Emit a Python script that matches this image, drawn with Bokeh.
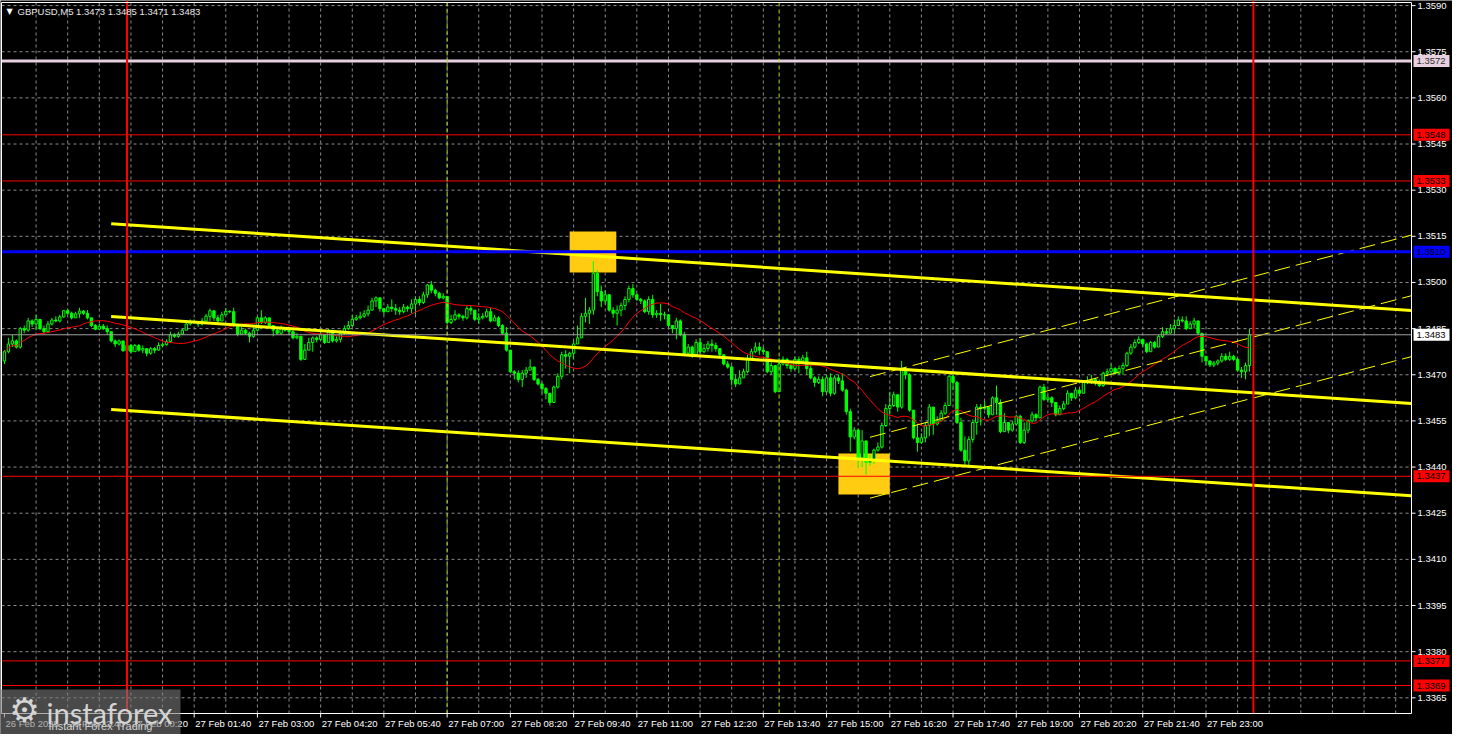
import numpy as np
import pandas as pd
from bokeh.plotting import figure
from bokeh.models import Range1d
from bokeh.core.properties import value
from bokeh.embed import file_html
from bokeh.resources import INLINE

# ---------------- data (prices as pips above 1.3400) ----------------
BASE = 1.3400
PIP = 0.0001
first_open_pips = 74.5
closes_pips = [
    77.5, 80.0, 81.0, 79.0, 85.0, 84.5, 87.5, 86.5, 88.0, 85.0,
    84.0, 86.5, 87.8, 87.5, 88.8, 90.8, 90.0, 88.5, 89.8, 90.7,
    90.0, 88.5, 86.0, 84.8, 85.8, 85.0, 84.0, 81.0, 80.0, 81.0,
    77.8, 79.5, 77.5, 79.5, 78.0, 78.5, 77.0, 78.5, 78.0, 79.5,
    79.8, 80.8, 83.0, 82.5, 83.2, 84.5, 86.5, 87.2, 87.0, 86.5,
    87.5, 89.0, 90.8, 88.5, 87.5, 89.5, 90.6, 90.5, 86.0, 83.2,
    84.5, 83.5, 82.5, 84.5, 88.5, 87.0, 88.5, 86.0, 84.5, 83.5,
    85.0, 84.5, 84.0, 82.0, 82.5, 75.0, 78.0, 80.5, 82.0, 81.5,
    83.0, 80.5, 84.0, 81.0, 81.5, 83.5, 85.0, 86.0, 88.0, 88.5,
    89.0, 89.8, 91.0, 94.0, 95.0, 91.5, 90.5, 92.0, 91.5, 91.0,
    90.5, 92.0, 91.5, 93.0, 94.5, 93.5, 96.0, 99.2, 97.5, 96.5,
    95.0, 95.5, 87.0, 88.0, 89.5, 89.0, 88.5, 91.5, 91.0, 88.0,
    88.5, 89.0, 90.5, 87.5, 88.5, 86.0, 83.5, 78.0, 71.0, 70.5,
    68.5, 70.5, 71.5, 72.5, 68.5, 67.0, 65.5, 64.0, 61.0, 66.0,
    69.5, 76.5, 76.0, 77.0, 80.0, 82.0, 89.0, 90.0, 91.0, 103.0,
    97.0, 94.0, 96.0, 91.0, 90.0, 91.0, 92.5, 94.5, 98.0, 96.0,
    94.5, 94.0, 90.5, 94.5, 89.5, 90.0, 89.5, 89.5, 86.0, 85.0,
    87.5, 83.0, 77.0, 79.0, 76.5, 80.5, 77.5, 78.5, 80.0, 79.5,
    78.5, 76.5, 73.5, 72.5, 68.5, 67.0, 69.0, 71.0, 75.0, 77.5,
    79.0, 78.0, 77.5, 71.0, 73.0, 64.5, 73.5, 75.0, 73.0, 72.0,
    75.0, 74.5, 75.5, 72.0, 69.0, 67.5, 68.5, 64.5, 69.0, 64.0,
    69.0, 68.0, 65.0, 58.0, 49.8, 52.0, 43.0, 48.5, 41.5, 42.5,
    45.5, 46.5, 53.5, 59.0, 60.0, 63.5, 59.5, 71.5, 70.0, 58.5,
    49.5, 48.0, 49.5, 53.5, 59.5, 54.0, 55.0, 57.5, 60.0, 69.5,
    67.5, 54.5, 45.5, 42.0, 49.0, 54.5, 59.5, 59.0, 59.5, 57.0,
    62.5, 61.0, 51.5, 54.5, 52.0, 54.0, 56.5, 48.0, 52.0, 55.0,
    57.0, 56.0, 66.0, 62.0, 62.5, 61.0, 57.0, 59.0, 60.5, 64.0,
    62.5, 65.0, 64.0, 67.5, 68.0, 68.5, 67.5, 66.5, 70.5, 71.0,
    72.0, 70.5, 72.0, 73.0, 77.0, 79.0, 80.5, 81.5, 80.0, 77.5,
    80.5, 79.0, 82.5, 84.0, 83.5, 85.0, 86.0, 87.8, 87.5, 85.0,
    86.5, 87.5, 83.5, 76.0, 74.5, 73.2, 73.8, 74.5, 76.0, 75.0,
    76.0, 75.0, 71.5, 71.0, 73.0, 83.0,
]
highs_pips = [
    78.0, 82.0, 83.0, 81.5, 85.5, 86.0, 88.5, 88.0, 89.5, 87.0,
    86.0, 87.5, 88.5, 89.0, 89.5, 91.0, 91.5, 90.5, 90.5, 91.8,
    91.0, 91.0, 88.5, 86.5, 86.5, 86.5, 86.0, 83.0, 81.5, 81.5,
    80.5, 80.0, 80.0, 80.0, 80.0, 79.5, 78.5, 79.0, 79.0, 80.5,
    80.5, 81.5, 84.0, 83.5, 84.0, 85.0, 87.0, 88.0, 88.0, 87.5,
    88.5, 89.8, 91.5, 90.0, 89.5, 90.5, 91.7, 91.0, 91.8, 86.5,
    85.5, 85.0, 84.0, 85.5, 89.0, 91.0, 89.0, 88.5, 86.0, 85.0,
    86.0, 85.5, 85.0, 84.5, 83.5, 82.0, 80.0, 82.0, 82.5, 82.5,
    84.0, 83.0, 85.0, 83.5, 82.5, 84.5, 86.0, 87.5, 89.5, 89.5,
    90.5, 91.0, 92.5, 95.0, 95.5, 95.0, 91.5, 93.0, 94.5, 93.0,
    92.0, 93.0, 92.5, 94.5, 95.5, 95.5, 97.0, 99.5, 100.5, 98.0,
    97.0, 96.5, 95.0, 89.5, 91.0, 90.0, 89.5, 92.5, 92.5, 90.5,
    90.0, 90.0, 91.5, 91.8, 89.5, 89.0, 86.5, 85.5, 77.0, 71.5,
    71.5, 71.5, 72.5, 75.0, 72.0, 69.0, 67.5, 66.0, 63.5, 66.5,
    70.5, 77.5, 78.0, 77.5, 81.0, 86.0, 90.0, 95.0, 92.0, 107.0,
    104.0, 99.0, 97.5, 95.0, 92.0, 92.5, 93.5, 95.5, 99.0, 99.5,
    96.5, 95.0, 94.5, 95.5, 96.0, 91.0, 93.0, 90.5, 89.5, 86.0,
    88.5, 88.0, 84.0, 80.0, 79.5, 81.5, 82.0, 80.0, 81.0, 81.5,
    80.5, 78.5, 76.5, 74.5, 73.0, 70.0, 71.5, 72.0, 76.5, 78.5,
    80.5, 80.5, 79.0, 77.5, 74.0, 73.0, 75.5, 76.0, 75.5, 73.5,
    76.0, 76.0, 76.5, 77.5, 73.0, 69.5, 69.5, 69.5, 70.0, 70.5,
    69.8, 70.0, 70.5, 65.5, 59.0, 53.0, 52.5, 52.0, 48.5, 44.0,
    46.0, 48.0, 54.5, 60.5, 64.5, 64.5, 62.0, 74.5, 72.5, 70.5,
    58.0, 54.0, 51.0, 54.5, 60.5, 58.0, 56.5, 58.5, 61.0, 70.0,
    70.0, 68.0, 56.0, 50.0, 50.0, 55.5, 60.5, 60.5, 61.5, 59.5,
    63.0, 66.5, 62.0, 57.5, 54.5, 55.0, 57.0, 57.0, 54.5, 55.5,
    58.0, 57.5, 66.5, 67.0, 63.5, 63.0, 61.0, 60.0, 61.5, 65.0,
    64.0, 66.0, 65.5, 68.0, 69.5, 70.0, 69.0, 68.5, 71.0, 72.0,
    73.5, 72.5, 73.0, 74.0, 77.5, 80.0, 81.5, 82.5, 81.5, 80.5,
    81.0, 81.0, 83.0, 85.5, 85.0, 86.5, 88.0, 89.0, 89.0, 89.0,
    87.5, 88.5, 87.5, 83.5, 76.0, 74.5, 74.5, 75.0, 77.0, 77.0,
    77.5, 76.5, 75.5, 72.5, 74.0, 85.0,
]
lows_pips = [
    73.5, 77.0, 79.0, 78.5, 78.5, 83.5, 84.0, 85.5, 84.5, 84.5,
    83.5, 84.0, 86.0, 87.0, 87.0, 88.5, 89.5, 88.0, 88.5, 88.5,
    89.5, 88.0, 85.5, 84.5, 84.5, 84.5, 83.0, 80.5, 79.0, 79.5,
    77.5, 78.5, 77.0, 78.5, 77.5, 77.0, 76.0, 76.5, 77.0, 78.5,
    79.0, 79.5, 80.5, 82.0, 82.0, 83.0, 84.5, 86.0, 86.5, 85.5,
    86.0, 87.5, 87.5, 87.5, 87.0, 87.5, 89.5, 90.0, 85.5, 82.5,
    83.0, 83.0, 80.5, 82.0, 84.0, 86.5, 86.5, 85.5, 82.5, 83.0,
    83.0, 84.0, 83.0, 81.5, 81.5, 74.5, 75.5, 78.0, 77.5, 80.5,
    81.0, 80.0, 80.5, 80.5, 80.5, 80.5, 83.0, 84.5, 85.5, 87.5,
    88.0, 88.5, 89.0, 91.0, 92.0, 90.5, 89.5, 90.5, 90.5, 89.5,
    89.5, 90.0, 90.5, 90.0, 89.5, 92.5, 93.0, 95.0, 96.5, 95.5,
    94.5, 94.5, 86.5, 86.5, 87.5, 88.0, 87.5, 88.0, 89.5, 87.5,
    86.5, 88.0, 88.5, 87.0, 87.5, 85.5, 83.0, 77.5, 70.5, 68.5,
    67.5, 66.0, 69.0, 71.5, 68.0, 66.5, 64.0, 62.0, 60.0, 61.0,
    65.5, 68.5, 72.0, 70.5, 75.0, 80.5, 82.0, 87.0, 86.5, 89.5,
    95.5, 92.0, 93.0, 90.5, 88.5, 86.0, 89.0, 91.0, 93.5, 95.0,
    94.0, 93.0, 90.0, 89.5, 88.5, 88.5, 87.5, 88.0, 85.5, 83.5,
    81.5, 82.5, 76.5, 76.5, 75.5, 76.0, 76.5, 77.0, 77.5, 77.5,
    77.5, 75.5, 73.0, 72.0, 66.5, 66.0, 67.5, 69.0, 70.5, 75.0,
    77.0, 76.5, 76.5, 70.5, 70.0, 64.0, 64.5, 73.0, 72.0, 71.0,
    71.5, 70.5, 73.5, 70.0, 68.5, 66.0, 67.0, 63.0, 64.0, 63.0,
    63.5, 67.0, 64.5, 57.0, 45.0, 49.0, 39.7, 40.0, 37.5, 40.5,
    41.0, 45.0, 46.0, 53.0, 57.0, 59.5, 58.0, 59.0, 68.5, 58.0,
    49.0, 45.0, 47.5, 48.0, 50.0, 50.5, 53.5, 55.0, 57.0, 60.0,
    65.0, 54.0, 45.0, 40.0, 40.0, 48.0, 50.5, 53.5, 58.5, 56.0,
    57.0, 57.0, 51.0, 51.5, 51.0, 51.5, 53.5, 47.5, 47.5, 51.0,
    54.5, 55.0, 56.0, 61.5, 61.0, 59.5, 56.5, 57.0, 58.5, 60.5,
    61.5, 62.0, 63.0, 64.0, 67.0, 67.0, 66.5, 66.0, 66.0, 69.5,
    70.0, 70.0, 70.0, 70.0, 72.5, 76.5, 78.5, 80.0, 79.0, 77.0,
    77.5, 78.5, 79.0, 82.0, 83.0, 83.5, 83.5, 86.0, 87.0, 84.5,
    85.0, 85.0, 83.0, 74.0, 73.0, 72.5, 72.5, 73.0, 74.0, 74.5,
    74.5, 74.5, 71.0, 69.0, 68.5, 71.0,
]

# time axis (bar index -> label)
time_tick_bars = [0, 16, 32, 48, 64, 80, 96, 112, 128, 144, 160, 176, 192, 208,
                  224, 240, 256, 272, 288, 304]
time_tick_labels = ["26 Feb 2025", "26 Feb 22:40", "27 Feb 00:20", "27 Feb 01:40",
                    "27 Feb 03:00", "27 Feb 04:20", "27 Feb 05:40", "27 Feb 07:00",
                    "27 Feb 08:20", "27 Feb 09:40", "27 Feb 11:00", "27 Feb 12:20",
                    "27 Feb 13:40", "27 Feb 15:00", "27 Feb 16:20", "27 Feb 17:40",
                    "27 Feb 19:00", "27 Feb 20:20", "27 Feb 21:40", "27 Feb 23:00"]
grid_bars = list(range(8, 356, 8))
price_ticks = [1.3365, 1.3380, 1.3395, 1.3410, 1.3425, 1.3440, 1.3455, 1.3470,
               1.3485, 1.3500, 1.3515, 1.3530, 1.3545, 1.3560, 1.3575, 1.3590]

# horizontal levels
level_prices = [1.3572, 1.3548, 1.3533, 1.3510, 1.3483, 1.3437, 1.3377, 1.3369]
level_colors = ["#E8D0E0", "#FF0000", "#FF0000", "#0000FF", "#A0A0A0", "#FF0000", "#FF0000", "#FF0000"]
level_widths = [3, 1, 1, 3, 1, 1, 1, 1]
level_box_colors = ["#E8D0E0", "#FF0000", "#FF0000", "#0000FF", "#FFFFFF", "#FF0000", "#FF0000", "#FF0000"]
level_text_colors = ["#303030", "#000000", "#000000", "#000000", "#000000", "#000000", "#000000", "#000000"]

# vertical lines
red_vlines = [31, 316]
lime_vlines = [112, 196]

# descending channel (solid) and ascending channel (dashed)
solid_x0 = [27, 27, 27]
solid_y0 = [1.35191, 1.34889, 1.34587]
solid_x1 = [356, 356, 356]
solid_y1 = [1.34909, 1.34607, 1.34307]
dash_x0 = [219, 219, 219]
dash_y0 = [1.34694, 1.34497, 1.34299]
dash_x1 = [356, 356, 356]
dash_y1 = [1.35154, 1.34957, 1.34759]

# signal boxes
box_left = [143.0, 211.0]
box_right = [154.8, 224.0]
box_top = [1.35166, 1.34444]
box_bottom = [1.35032, 1.34311]

title_text = "GBPUSD,M5  1.3473 1.3485 1.3471 1.3483"

# ---------------- geometry ----------------
W, H = 1452, 734
CH_LEFT, CH_RIGHT = 1, 1411      # chart area in canvas px
CH_TOP, CH_BOTTOM = 2, 713
X0, X1 = -0.75, 356.0
Y0, Y1 = 1.33599, 1.35910
SX = (CH_RIGHT - CH_LEFT) / (X1 - X0)       # px per bar
ppx = (Y1 - Y0) / (CH_BOTTOM - CH_TOP)      # price per px


def dx(px):
    return px / SX


def dy(px):
    return px * ppx


xr = Range1d(X0 - dx(CH_LEFT), X0 + dx(W - CH_LEFT))
yr = Range1d(Y0 - dy(H - CH_BOTTOM), Y1 + dy(CH_TOP))

FONT = value("Liberation Sans")
GREEN = "#00FF00"

# ---------------- build ----------------
c = BASE + np.array(closes_pips) * PIP
o = BASE + np.array([first_open_pips] + closes_pips[:-1]) * PIP
h = np.maximum.reduce([BASE + np.array(highs_pips) * PIP, o, c])
l = np.minimum.reduce([BASE + np.array(lows_pips) * PIP, o, c])
x = np.arange(len(c))
ma = pd.Series(c).rolling(20, min_periods=1).mean().values

p = figure(width=W, height=H, x_range=xr, y_range=yr,
           x_axis_location=None, y_axis_location=None,
           output_backend="svg", toolbar_location=None,
           background_fill_color="black", border_fill_color="black",
           outline_line_color=None, min_border=0)
p.xgrid.visible = False
p.ygrid.visible = False

# grid
p.segment(x0=grid_bars, y0=[Y0] * len(grid_bars), x1=grid_bars, y1=[Y1] * len(grid_bars),
          line_color="#8c8c8c", line_width=1, line_dash="3 3")
p.segment(x0=[X0] * len(price_ticks), y0=price_ticks, x1=[X1] * len(price_ticks), y1=price_ticks,
          line_color="#8c8c8c", line_width=1, line_dash="3 3")

# signal boxes (background)
p.quad(left=box_left, right=box_right, top=box_top, bottom=box_bottom,
       fill_color="#FFCC11", line_color=None)

# candles
p.segment(x0=x, y0=h, x1=x, y1=l, line_color=GREEN, line_width=1)
up = c >= o
p.vbar(x=x[up], top=c[up], bottom=o[up], width=0.6, fill_color="black", line_color=GREEN, line_width=1)
p.vbar(x=x[~up], top=o[~up], bottom=c[~up], width=0.6, fill_color=GREEN, line_color=GREEN, line_width=1)

# moving average
p.line(x, ma, line_color="#FF0000", line_width=1)

# channel lines
for a, b, cc, d in zip(solid_x0, solid_y0, solid_x1, solid_y1):
    p.line([a, cc], [b, d], line_color="#FFFF00", line_width=3)
for a, b, cc, d in zip(dash_x0, dash_y0, dash_x1, dash_y1):
    p.line([a, cc], [b, d], line_color="#FFFF00", line_width=1, line_dash="16 6")

# horizontal levels
for lv, col, w in zip(level_prices, level_colors, level_widths):
    p.line([X0, X1], [lv, lv], line_color=col, line_width=w)
# vertical lines
for v in lime_vlines:
    p.line([v, v], [Y0, Y1], line_color="#A8E020", line_width=1, line_dash="4 3")
for v in red_vlines:
    p.line([v, v], [Y0, Y1 + dy(2)], line_color="#FF0000", line_width=2)

# chart border (white) and axis ticks
p.quad(left=[X0], right=[X1], bottom=[Y0], top=[Y1], fill_alpha=0, line_color="white", line_width=1)
p.segment(x0=[X1] * len(price_ticks), y0=price_ticks, x1=[X1 + dx(4)] * len(price_ticks), y1=price_ticks,
          line_color="white", line_width=1)
p.segment(x0=time_tick_bars, y0=[Y0] * len(time_tick_bars), x1=time_tick_bars,
          y1=[Y0 - dy(4)] * len(time_tick_bars), line_color="white", line_width=1)

# right axis labels
p.text(x=[X1 + dx(6)] * len(price_ticks), y=price_ticks, text=[f"{t:.4f}" for t in price_ticks],
       text_font=FONT, text_font_size="9.5px", text_color="white",
       text_align="left", text_baseline="middle")

# price boxes on the right axis
p.quad(left=[X1 + dx(2)] * len(level_prices), right=[X1 + dx(38)] * len(level_prices),
       top=[lv + dy(6) for lv in level_prices], bottom=[lv - dy(6) for lv in level_prices],
       fill_color=level_box_colors, line_color=None)
p.text(x=[X1 + dx(5)] * len(level_prices), y=level_prices, text=[f"{lv:.4f}" for lv in level_prices],
       text_font=FONT, text_font_size="9.5px", text_color=level_text_colors,
       text_align="left", text_baseline="middle")

# time labels (left aligned at the tick, MT4 style)
p.text(x=[b + dx(1) for b in time_tick_bars], y=[Y0 - dy(4)] * len(time_tick_bars),
       text=time_tick_labels, text_font=FONT, text_font_size="9.5px", text_color="white",
       text_align="left", text_baseline="top")

# title
p.text(x=[X0 + dx(5)], y=[Y1 - dy(4)], text=["\u25bc"], text_font=value("DejaVu Sans"),
       text_font_size="8px", text_color="white", text_baseline="top", text_align="left")
p.text(x=[X0 + dx(16)], y=[Y1 - dy(3)], text=[title_text], text_font=FONT,
       text_font_size="9.5px", text_color="#E8E8E8", text_baseline="top", text_align="left")

# logo
p.quad(left=[X0 - dx(1)], right=[X0 + dx(179)], top=[Y0 + dy(24)], bottom=[Y0 - dy(30)],
       fill_color="#7a7a7a", fill_alpha=0.6, line_color=None)
p.text(x=[X0 + dx(23)], y=[Y0 + dy(4)], text=["\u2699"], text_font=value("DejaVu Sans"),
       text_font_size="34px", text_color="#d4d4d4", text_align="center", text_baseline="middle")
p.text(x=[X0 + dx(45)], y=[Y0 + dy(1)], text=["instaforex"], text_font=value("Lato"),
       text_font_size="29px", text_color="#d4d4d4", text_align="left", text_baseline="alphabetic")
p.text(x=[X0 + dx(47)], y=[Y0 - dy(12)], text=["Instant Forex Trading"], text_font=FONT,
       text_font_size="11px", text_color="#d4d4d4", text_align="left", text_baseline="alphabetic")

open("out.html", "w").write(file_html(p, INLINE))
